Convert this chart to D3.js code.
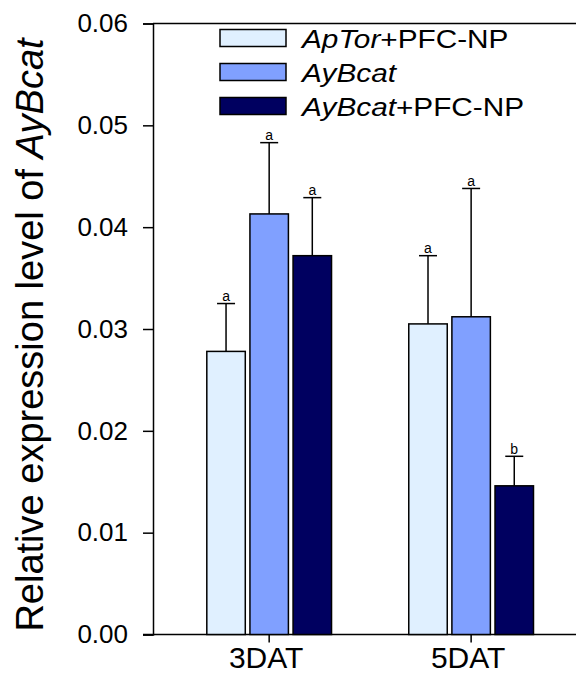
<!doctype html>
<html>
<head>
  <meta charset="utf-8">
  <title>Relative expression level of AyBcat</title>
  <style>
  body { margin: 0; background: #fff; }
  text { font-family: "Liberation Sans", Arial, sans-serif; fill: #000; }
  </style>
</head>
<body>
  <div id="vis"></div>
  <script src="https://d3js.org/d3.v7.min.js"></script>
  <script>
  // data
  var groups = ['3DAT', '5DAT'];
  var series = ['ApTor+PFC-NP', 'AyBcat', 'AyBcat+PFC-NP'];
  var apTorPfc = [0.0278, 0.0305];
  var ayBcat = [0.0413, 0.0312];
  var ayBcatPfc = [0.0372, 0.0146];
  var apTorPfcErr = [0.0047, 0.0067];
  var ayBcatErr = [0.0070, 0.0126];
  var ayBcatPfcErr = [0.0057, 0.0029];
  var apTorPfcSig = ['a', 'a'];
  var ayBcatSig = ['a', 'a'];
  var ayBcatPfcSig = ['a', 'b'];
  var yTicks = [0, 0.01, 0.02, 0.03, 0.04, 0.05, 0.06];

  var width = 576;
  var height = 675;
  var colors = ['#e0f0ff', '#80a0ff', '#000060'];
  // legend label pieces: [text, italic?]
  var legendParts = [
    [['ApTor', true], ['+PFC-NP', false]],
    [['AyBcat', true]],
    [['AyBcat', true], ['+PFC-NP', false]]
  ];

  var values = [apTorPfc, ayBcat, ayBcatPfc];
  var errs = [apTorPfcErr, ayBcatErr, ayBcatPfcErr];
  var sigs = [apTorPfcSig, ayBcatSig, ayBcatPfcSig];

  var rows = [];
  series.forEach(function(s, si){
    groups.forEach(function(g, gi){
      rows.push({ group: g, series: s, si: si, value: values[si][gi], err: errs[si][gi], sig: sigs[si][gi] });
    });
  });

  var svg = d3.select('#vis').append('svg')
    .attr('width', width)
    .attr('height', height);

  var y = d3.scaleLinear().domain([0, 0.06]).range([634.5, 23.5]);
  var x0 = d3.scaleBand().domain(groups).range([153, 587.3])
    .paddingInner(0.375).paddingOuter(0.2627);
  var x1 = d3.scaleBand().domain(series).range([0, x0.bandwidth()])
    .paddingInner(0.073);

  // frame lines
  svg.append('line').attr('x1', 143).attr('x2', width).attr('y1', y(0)).attr('y2', y(0))
    .attr('stroke', '#000').attr('stroke-width', 1.5);
  svg.append('line').attr('x1', 153).attr('x2', width).attr('y1', y(0.06)).attr('y2', y(0.06))
    .attr('stroke', '#000').attr('stroke-width', 1.5);

  // error bars (upper only)
  var eb = svg.append('g');
  rows.forEach(function(d){
    var cx = x0(d.group) + x1(d.series) + x1.bandwidth() / 2;
    eb.append('line').attr('x1', cx).attr('x2', cx)
      .attr('y1', y(d.value)).attr('y2', y(d.value + d.err))
      .attr('stroke', '#000').attr('stroke-width', 1.5);
    eb.append('line').attr('x1', cx - 9).attr('x2', cx + 9)
      .attr('y1', y(d.value + d.err)).attr('y2', y(d.value + d.err))
      .attr('stroke', '#000').attr('stroke-width', 1.5);
    eb.append('text').attr('x', cx).attr('y', y(d.value + d.err) - 2.5)
      .attr('text-anchor', 'middle').style('font-size', '14px')
      .text(d.sig);
  });

  svg.append('g').selectAll('rect').data(rows).enter().append('rect')
    .attr('x', function(d){ return x0(d.group) + x1(d.series) + 0.75; })
    .attr('width', x1.bandwidth() - 1.5)
    .attr('y', function(d){ return y(d.value); })
    .attr('height', function(d){ return y(0) - y(d.value); })
    .attr('fill', function(d){ return colors[d.si]; })
    .attr('stroke', '#000')
    .attr('stroke-width', 1.5);

  // y axis
  var yAxis = svg.append('g').attr('transform', 'translate(153,0)')
    .call(d3.axisLeft(y).tickValues(yTicks).tickFormat(d3.format('.2f'))
      .tickSize(10).tickPadding(15));
  yAxis.select('.domain').attr('stroke-width', 1.5);
  yAxis.selectAll('.tick line').attr('stroke-width', 1.5);
  yAxis.selectAll('text').style('font-size', '26px')
    .style('font-family', '"Liberation Sans", Arial, sans-serif');

  // x axis
  var xAxis = svg.append('g').attr('transform', 'translate(0,' + y(0) + ')')
    .call(d3.axisBottom(x0).tickSize(8).tickPadding(4));
  xAxis.select('.domain').remove();
  xAxis.selectAll('.tick line').attr('stroke-width', 1.5);
  xAxis.selectAll('text').style('font-size', '30px')
    .attr('dx', -3)
    .style('font-family', '"Liberation Sans", Arial, sans-serif');

  // y title
  var title = svg.append('text')
    .attr('transform', 'translate(43,335) rotate(-90)')
    .attr('text-anchor', 'middle')
    .style('font-size', '38px');
  title.append('tspan').text('Relative expression level of ');
  title.append('tspan').style('font-style', 'italic').text('AyBcat');

  // legend
  var legend = svg.append('g');
  legendParts.forEach(function(parts, i){
    var yy = 38 + i * 34;
    legend.append('rect').attr('x', 220).attr('y', yy - 8.5)
      .attr('width', 66).attr('height', 17)
      .attr('fill', colors[i]).attr('stroke', '#000').attr('stroke-width', 1.5);
    var t = legend.append('text').attr('x', 302).attr('y', yy + 9.5)
      .style('font-size', '25px');
    parts.forEach(function(p){
      t.append('tspan').style('font-style', p[1] ? 'italic' : 'normal').text(p[0]);
    });
    var len = t.node().getComputedTextLength();
    t.attr('textLength', len * 1.19).attr('lengthAdjust', 'spacingAndGlyphs');
  });
  </script>
</body>
</html>
